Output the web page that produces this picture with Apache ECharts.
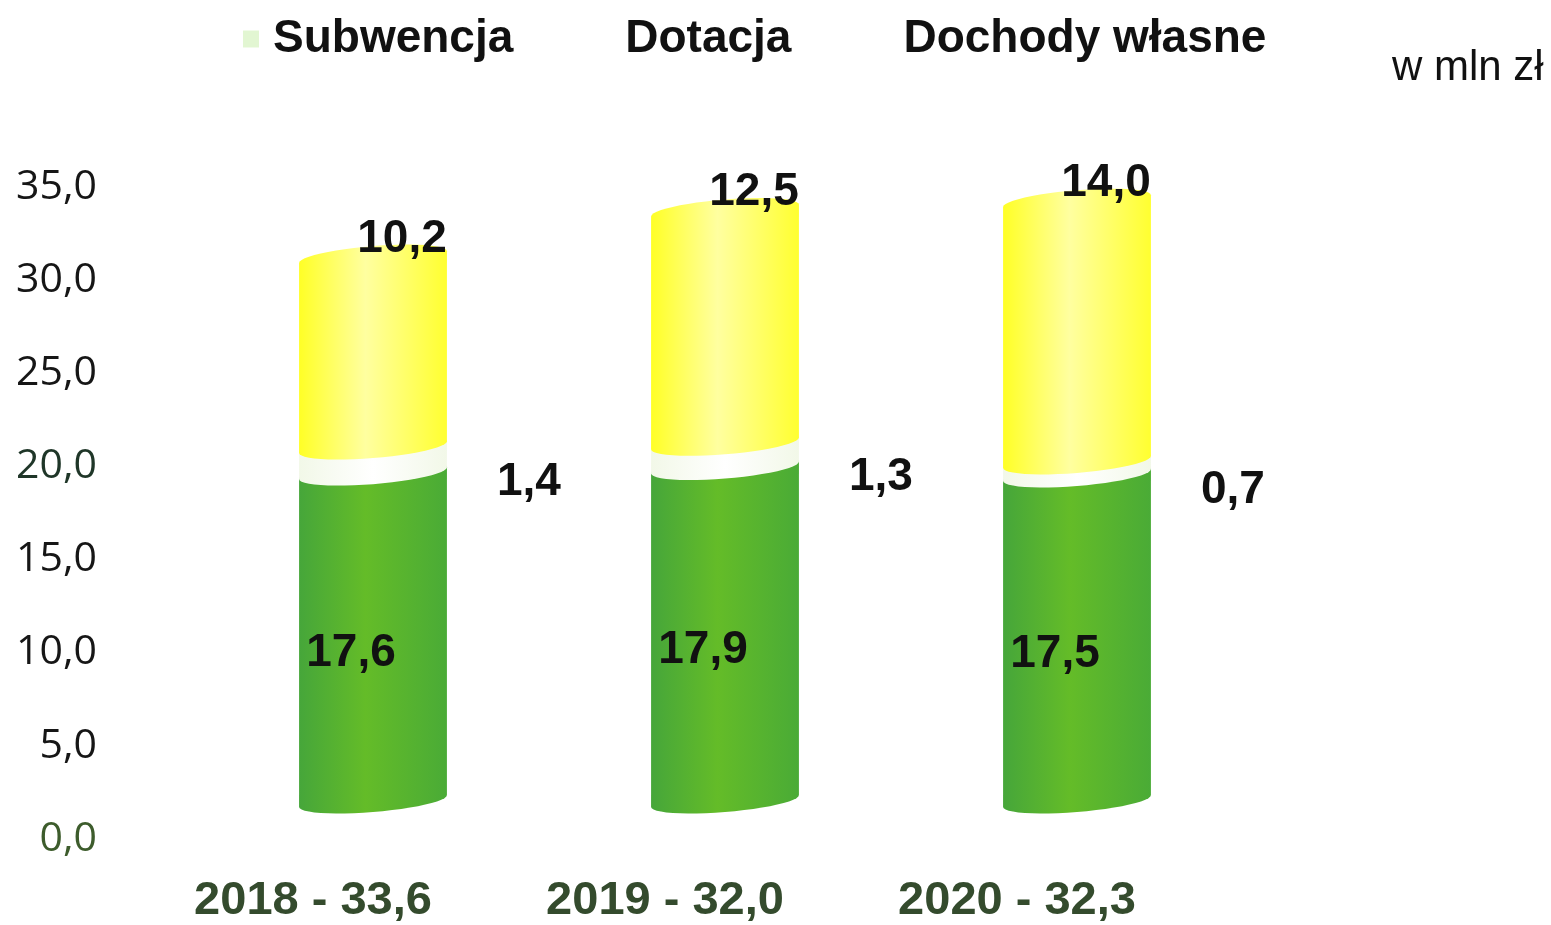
<!DOCTYPE html>
<html>
<head>
<meta charset="utf-8">
<script src="https://cdn.jsdelivr.net/npm/echarts@6/dist/echarts.min.js"></script>
<style>
html,body{margin:0;padding:0;background:#fff;}
#chart{width:1551px;height:925px;}
</style>
</head>
<body>
<div id="chart"></div>
<script>
// ---- data ----
const categories = ['2018', '2019', '2020'];
const totals = [33.6, 32.0, 32.3];
const subwencja = [17.6, 17.9, 17.5];
const dotacja = [1.4, 1.3, 0.7];
const dochodyWlasne = [10.2, 12.5, 14.0];
const seriesNames = ['Subwencja', 'Dotacja', 'Dochody własne'];
const yMin = 0, yMax = 35, yInterval = 5;
const unitLabel = 'w mln zł';

// ---- helpers ----
const fmt = v => v.toFixed(1).replace('.', ',');
const LIFT = 38;          // visual 3D lift of the cylinders (px)
const RY = 11;            // ellipse half-height (px)
const SLOPE = 0.08;       // perspective tilt of the ellipses
const STEPS = 24;

const seriesValues = [subwencja, dotacja, dochodyWlasne];
function stackedData(k) {
  return categories.map((c, i) => {
    let base = 0;
    for (let j = 0; j < k; j++) base += seriesValues[j][i];
    const v = seriesValues[k][i];
    return [i, base, base + v, v];
  });
}

const fills = [
  {type:'linear',x:0,y:0,x2:1,y2:0,colorStops:[{offset:0,color:'#46a63a'},{offset:0.45,color:'#64bc28'},{offset:1,color:'#4aab36'}]},
  {type:'linear',x:0,y:0,x2:1,y2:0,colorStops:[{offset:0,color:'#f2f8e8'},{offset:0.5,color:'#ffffff'},{offset:1,color:'#f2f8e8'}]},
  {type:'linear',x:0,y:0,x2:1,y2:0,colorStops:[{offset:0,color:'#ffff26'},{offset:0.45,color:'#ffffa0'},{offset:1,color:'#ffff30'}]}
];

const labelFont = 'bold 46px "Liberation Sans", Arial, sans-serif';

// outline of a cylinder segment: upper arc at yt, right side, lower arc at yb, left side
function cylinderPoints(cx, rx, yt, yb) {
  const pts = [];
  for (let s = 0; s <= STEPS; s++) {          // upper arc, left -> right
    const a = Math.PI + Math.PI * s / STEPS;
    const dx = rx * Math.cos(a);
    pts.push([cx + dx, yt + RY * Math.sin(a) - dx * SLOPE]);
  }
  for (let s = 0; s <= STEPS; s++) {          // lower arc, right -> left
    const a = Math.PI * s / STEPS;
    const dx = rx * Math.cos(a);
    pts.push([cx + dx, yb + RY * Math.sin(a) - dx * SLOPE]);
  }
  return pts;
}

function makeRender(k) {
  return function (params, api) {
    const i = api.value(0);
    const lo = api.coord([i, api.value(1)]);
    const hi = api.coord([i, api.value(2)]);
    const v = api.value(3);
    const bw = api.size([1, 0])[0] * 0.42;
    const cx = lo[0];
    const x0 = cx - bw / 2;
    const yb = lo[1] - LIFT;
    const yt = hi[1] - LIFT;
    const children = [{
      type: 'polygon',
      shape: {points: cylinderPoints(cx, bw / 2, yt, yb)},
      style: {fill: fills[k]}
    }];
    let tx, ty, align = 'center';
    if (k === 0) { tx = cx - 22; ty = (yb + yt) / 2 + 16; }
    else if (k === 1) { tx = x0 + bw + 50; ty = (yb + yt) / 2 + 22; align = 'left'; }
    else { tx = cx + 29; ty = yt - 18; }
    children.push({
      type: 'text', z2: 10,
      style: {x: tx, y: ty, text: fmt(v), font: labelFont, fill: '#111', align: align, verticalAlign: 'middle'}
    });
    return {type: 'group', children: children};
  };
}

const chart = echarts.init(document.getElementById('chart'));
chart.setOption({
  backgroundColor: '#ffffff',
  animation: false,
  grid: {left: 197, width: 1056, top: 187, bottom: 85},
  legend: {
    top: 11, left: 238,
    itemWidth: 16, itemHeight: 17, itemGap: 82,
    icon: 'rect',
    textStyle: {
      fontFamily: '"Liberation Sans", Arial, sans-serif',
      fontWeight: 'bold', fontSize: 46, color: '#111',
      padding: [0, 0, 0, 9]
    },
    data: [
      {name: seriesNames[0], itemStyle: {color: '#e2f6d2'}},
      {name: seriesNames[1], itemStyle: {color: '#ffffff'}},
      {name: seriesNames[2], itemStyle: {color: '#ffffff'}}
    ]
  },
  xAxis: {
    type: 'category',
    data: categories,
    axisLine: {show: false},
    axisTick: {show: false},
    axisLabel: {
      interval: 0,
      margin: 39,
      padding: [0, 120, 0, 0],
      formatter: (val, idx) => val + ' - ' + fmt(totals[idx]),
      fontFamily: '"Liberation Sans", Arial, sans-serif',
      fontWeight: 'bold',
      fontSize: 47,
      color: '#344b2d'
    }
  },
  yAxis: {
    type: 'value',
    min: yMin, max: yMax, interval: yInterval,
    axisLine: {show: false},
    axisTick: {show: false},
    splitLine: {show: false},
    axisLabel: {
      margin: 100,
      formatter: v => fmt(v),
      fontFamily: '"Open Sans", sans-serif',
      fontSize: 41,
      color: v => (Number(v) === 0 ? '#3d5c2c' : (Number(v) === 20 ? '#1f3628' : '#161616'))
    }
  },
  graphic: [{
    type: 'text', left: 1392, top: 47,
    style: {text: unitLabel, font: '42px "Liberation Sans", Arial, sans-serif', fill: '#111'}
  }],
  series: seriesNames.map((name, k) => ({
    type: 'custom',
    name: name,
    renderItem: makeRender(k),
    encode: {x: 0, y: [1, 2]},
    data: stackedData(k),
    z: 2 + k
  }))
});
</script>
</body>
</html>
